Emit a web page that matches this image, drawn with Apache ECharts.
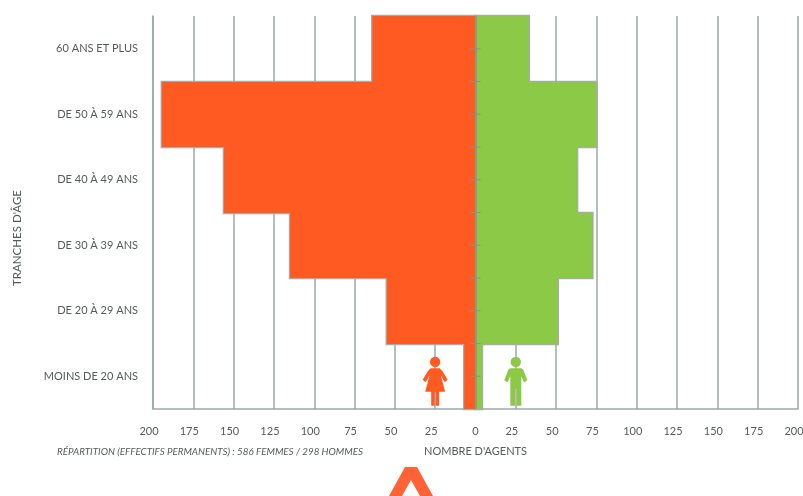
<!DOCTYPE html>
<html>
<head>
<meta charset="utf-8">
<title>Pyramide des âges</title>
<script src="https://cdn.jsdelivr.net/npm/echarts@6/dist/echarts.min.js"></script>
<style>html,body{margin:0;padding:0;background:#fff}#chart{width:803px;height:496px}</style>
</head>
<body>
<div id="chart"></div>
<script>
const ageGroups = ['60 ANS ET PLUS', 'DE 50 À 59 ANS', 'DE 40 À 49 ANS', 'DE 30 À 39 ANS', 'DE 20 À 29 ANS', 'MOINS DE 20 ANS'];
const femmes = [64, 194.5, 156, 115, 55, 7];
const hommes = [33, 75, 63, 72.5, 51, 4];
const iconValue = 25;
const tickPositions = [0.5, 1, 1.5, 2, 2.5, 3, 3.5, 4, 4.5, 5, 5.5];
const footnote = 'RÉPARTITION (EFFECTIFS PERMANENTS) : 586 FEMMES / 298 HOMMES';

const ORANGE = '#FF5A22', GREEN = '#8BC947', LINE = '#9DA9A7', OUTLINE = '#A3ADAB', AXIS = '#87938F', INK = '#555B5B';
const FONT = 'Lato';

// Pictograms, each scaled to fill its symbolSize box
const womanIcon = 'path://M12.5 0A5.2 5.2 0 1 1 12.4 0ZM8 11.5L17 11.5L19.5 14L25 23L22 25.5L18 18.5L22.5 35L16.5 35L16.5 49L13 49L13 35.5L12 35.5L12 49L8.5 49L8.5 35L2.5 35L7 18.5L3 25.5L0 23L5.5 14Z';
const manIcon = 'path://M11.5 0A5.2 5.2 0 1 1 11.4 0ZM6 11.5L17 11.5L19 13L23 23.5L19.8 25.8L17 19.5L17 49L12.3 49L12.3 32L10.7 32L10.7 49L6 49L6 19.5L3.2 25.8L0 23.5L4 13Z';

// One horizontal bar; edges snap to whole pixels vertically so neighbours leave no seam
const barRenderer = (outline, fill) => (params, api) => {
  const i = api.value(1);
  const band = api.size([0, 1])[1];
  const end = api.coord([api.value(0), i]);
  const zero = api.coord([0, i]);
  const top = Math.round(end[1] - band / 2);
  const bottom = Math.round(end[1] + band / 2);
  return {
    type: 'rect',
    shape: { x: Math.min(end[0], zero[0]), y: top, width: Math.abs(end[0] - zero[0]), height: bottom - top },
    style: outline ? { fill: 'none', stroke: OUTLINE, lineWidth: 2.5 } : { fill }
  };
};
const barSeries = (name, values, fill, outline) => ({
  name, type: 'custom', yAxisIndex: 0, silent: true, clip: false,
  z: outline ? 2 : 3,
  encode: { x: 0, y: 1 },
  renderItem: barRenderer(outline, fill),
  data: values.map((v, i) => [v, i])
});
const negated = femmes.map(v => -v);

const chart = echarts.init(document.getElementById('chart'), null, { renderer: 'canvas' });
chart.setOption({
  animation: false,
  backgroundColor: '#fff',
  grid: { left: 153, right: 5, top: 16, bottom: 87, outerBoundsMode: 'none' },
  xAxis: {
    type: 'value', min: -200, max: 200, interval: 25,
    name: "NOMBRE D'AGENTS", nameLocation: 'middle', nameGap: 37,
    nameTextStyle: { color: INK, fontFamily: FONT, fontSize: 11 },
    axisLine: { show: true, onZero: false, lineStyle: { color: LINE, width: 1.5 } },
    axisTick: { show: false },
    axisLabel: {
      margin: 17,
      formatter: v => v === 0 ? '{z|0}' : '{n|' + Math.abs(v) + '}',
      rich: {
        n: { color: INK, fontFamily: FONT, fontSize: 11, padding: [0, 8, 0, 0] },
        z: { color: INK, fontFamily: FONT, fontSize: 11 }
      }
    },
    splitLine: { show: true, lineStyle: { color: LINE, width: 1.5 } }
  },
  yAxis: [
    {
      type: 'category', inverse: true, data: ageGroups,
      axisLine: { show: true, onZero: false, lineStyle: { color: LINE, width: 1.5 } },
      axisTick: { show: false },
      axisLabel: { margin: 15, color: INK, fontFamily: FONT, fontSize: 11 }
    },
    // Hidden scale in band units, used by the ticks on the central axis
    { type: 'value', min: 0, max: 6, show: false, splitLine: { show: false } }
  ],
  series: [
    barSeries('Femmes contour', negated, ORANGE, true),
    barSeries('Hommes contour', hommes, GREEN, true),
    barSeries('Femmes', negated, ORANGE, false),
    barSeries('Hommes', hommes, GREEN, false),
    {
      type: 'scatter', yAxisIndex: 0, z: 4, silent: true,
      symbol: womanIcon, symbolSize: [25, 49], symbolOffset: [0, 5],
      itemStyle: { color: ORANGE, opacity: 1 },
      data: [[-iconValue, ageGroups[5]]]
    },
    {
      type: 'scatter', yAxisIndex: 0, z: 4, silent: true,
      symbol: manIcon, symbolSize: [23, 49], symbolOffset: [0, 5],
      itemStyle: { color: GREEN, opacity: 1 },
      data: [[iconValue, ageGroups[5]]]
    },
    {
      name: 'Axe central', type: 'scatter', yAxisIndex: 1, z: 5, silent: true,
      symbol: 'rect', symbolSize: [10, 1],
      itemStyle: { color: AXIS, opacity: 1 },
      data: tickPositions.map(p => [0, p]),
      markLine: {
        silent: true, symbol: 'none', label: { show: false }, animation: false,
        lineStyle: { color: AXIS, width: 1.5, type: 'solid' },
        data: [{ xAxis: 0 }]
      }
    }
  ],
  graphic: [
    {
      type: 'text', left: 57, top: 447,
      style: { text: footnote, fill: INK, font: 'italic 9.8px ' + FONT }
    },
    {
      type: 'text', x: 17, y: 238, rotation: Math.PI / 2,
      style: { text: "TRANCHES D'ÂGE", fill: INK, font: '11.5px ' + FONT, align: 'center', verticalAlign: 'middle' }
    },
    {
      type: 'polygon',
      shape: { points: [[405, 467], [417, 467], [433, 496], [420, 496], [411, 480], [402, 496], [389, 496]] },
      style: { fill: '#FF6235' }
    }
  ]
});
</script>
</body>
</html>
